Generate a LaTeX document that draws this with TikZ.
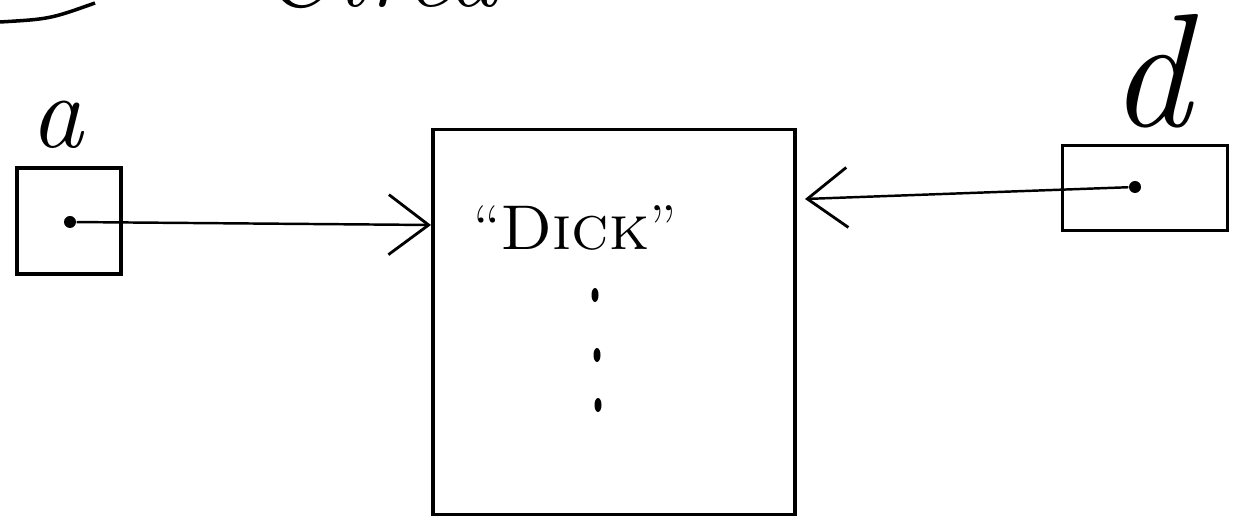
\documentclass[tikz,border=0pt]{standalone}
\usepackage{tikz}
\usetikzlibrary{arrows.meta,positioning,calc,shapes.geometric}

\begin{document}
\begin{tikzpicture}[
    box/.style={draw, line width=1pt, inner sep=0pt},
    ptr/.style={->, line width=0.7pt, >={Straight Barb[length=4mm,width=6mm,line width=0.8pt]}},
    dotmark/.style={fill, ellipse, inner sep=0pt, minimum width=0.7mm, minimum height=1.4mm},
    hand/.style={font=\fontsize{30}{32}\selectfont\itshape}
  ]
  \useasboundingbox (0,0) rectangle (12.41,-5.29);

  % leftovers of the previous sketch, cut off at the top
  \draw[line width=1pt] (0,-0.22) .. controls (0.5,-0.19) .. (0.95,-0.03);
  \node[hand, anchor=base] (oldword) at (3.80,-0.07) {Circa};

  % the string object
  \node[box, minimum width=3.62cm, minimum height=3.85cm] (heap) at (6.14,-3.22) {};
  \node[font=\fontsize{18}{21}\selectfont] (dick) at (5.75,-2.28) {``\textsc{Dick}''};
  \node[dotmark] (dot1) at (5.95,-2.95) {};
  \node[dotmark] (dot2) at (5.97,-3.55) {};
  \node[dotmark] (dot3) at (5.98,-4.05) {};

  % variable a
  \node[box, minimum width=1.04cm, minimum height=1.06cm] (boxa) at (0.69,-2.21) {};
  \node[hand, above=0.05cm of boxa, xshift=-0.12cm] (laba) {a};
  \node[circle, fill, inner sep=0pt, minimum size=1.2mm] (aptr) at (0.70,-2.22) {};

  % variable d
  \node[box, minimum width=1.65cm, minimum height=0.85cm] (boxd) at (11.45,-1.88) {};
  \node[font=\fontsize{46}{48}\selectfont\itshape, inner sep=0pt, above=0.15cm of boxd, xshift=0.05cm] (labd) {d};
  \node[circle, fill, inner sep=0pt, minimum size=1.2mm] (dptr) at (11.35,-1.87) {};

  % references
  \coordinate (atip) at (4.31,-2.25);
  \coordinate (dtip) at (8.05,-1.99);
  \draw[ptr] (aptr) -- (atip);
  \draw[ptr] (dptr) -- (dtip);
\end{tikzpicture}
\end{document}
